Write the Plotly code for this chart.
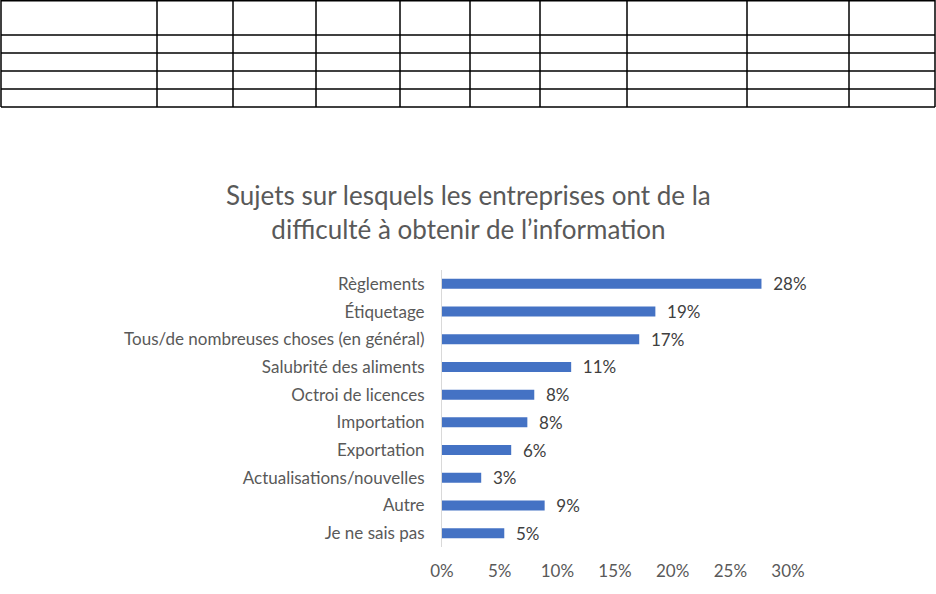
import plotly.graph_objects as go

categories = ["Règlements", "Étiquetage", "Tous/de nombreuses choses (en général)",
              "Salubrité des aliments", "Octroi de licences", "Importation",
              "Exportation", "Actualisations/nouvelles", "Autre", "Je ne sais pas"]
values = [0.277, 0.185, 0.171, 0.112, 0.080, 0.074, 0.060, 0.034, 0.089, 0.054]
labels = ["28%", "19%", "17%", "11%", "8%", "8%", "6%", "3%", "9%", "5%"]
xticks = [0, 0.05, 0.10, 0.15, 0.20, 0.25, 0.30]
xticklabels = ["0%", "5%", "10%", "15%", "20%", "25%", "30%"]

W, H = 936, 594
L, R, T, B = 442, 148, 270, 47
PW, PH = W - L - R, H - T - B

def px(x):
    return (x - L) / PW

def py(y):
    return 1 - (y - T) / PH

FONT = "Lato"

fig = go.Figure(go.Bar(
    x=values, y=categories, orientation="h",
    marker=dict(color="#4472C4", line=dict(width=0)),
    text=labels, texttemplate="  %{text}", textposition="outside",
    constraintext="none",
    textfont=dict(family=FONT, size=17, color="#404040"),
    cliponaxis=False, width=0.36, hoverinfo="skip",
))

# empty table grid at the top of the page
h_lines = [0.75, 35, 53, 71, 89, 107]
v_lines = [1, 157, 233, 316, 400, 470, 540, 627, 747, 849, 935]
shapes = []
for yy in h_lines:
    shapes.append(dict(type="line", xref="paper", yref="paper",
                       x0=px(1), x1=px(935), y0=py(yy), y1=py(yy),
                       line=dict(color="black", width=1.5)))
for xx in v_lines:
    shapes.append(dict(type="line", xref="paper", yref="paper",
                       x0=px(xx), x1=px(xx), y0=py(0), y1=py(107),
                       line=dict(color="black", width=1.5)))

fig.update_layout(
    width=W, height=H,
    margin=dict(l=L, r=R, t=T, b=B, pad=0),
    paper_bgcolor="white", plot_bgcolor="white",
    showlegend=False,
    font=dict(family=FONT, size=17, color="#595959"),
    shapes=shapes,
    annotations=[dict(
        text="Sujets sur lesquels les entreprises ont de la<br>difficulté à obtenir de l’information",
        xref="paper", yref="paper", x=px(468), y=py(212),
        xanchor="center", yanchor="middle", showarrow=False,
        font=dict(family=FONT, size=26, color="#595959"),
    )],
    xaxis=dict(range=[0, 0.30], tickvals=xticks, ticktext=xticklabels,
               showgrid=False, zeroline=False, showline=False,
               ticks="", ticklabelstandoff=12,
               tickfont=dict(family=FONT, size=17, color="#595959")),
    yaxis=dict(autorange="reversed", showgrid=False, zeroline=False,
               showline=True, linecolor="#D9D9D9", linewidth=1,
               ticks="", ticklabelstandoff=13,
               tickfont=dict(family=FONT, size=17, color="#595959")),
)

fig.write_html("out.html",
               config={"displayModeBar": False, "staticPlot": True},
               post_script="document.body.style.margin='0';document.body.style.padding='0';")
